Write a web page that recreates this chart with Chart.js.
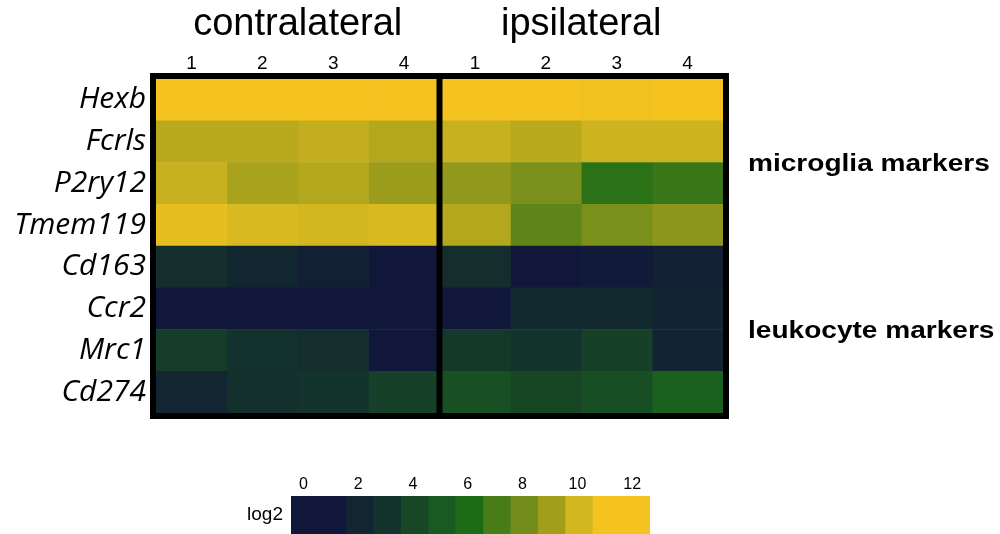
<!DOCTYPE html>
<html>
<head>
<meta charset="utf-8">
<script src="https://cdn.jsdelivr.net/npm/chart.js@4.4.0/dist/chart.umd.min.js"></script>
<style>
  html, body { margin: 0; padding: 0; background: #fff; }
  #wrap { position: relative; width: 1000px; height: 534px; overflow: hidden; }
  #heat { position: absolute; left: 0; top: 0; }
  #scale { position: absolute; left: 0; top: 460px; }
</style>
</head>
<body>
<div id="wrap">
  <canvas id="heat" width="1000" height="460"></canvas>
  <canvas id="scale" width="1000" height="74"></canvas>
</div>
<script>
const genes = ["Hexb", "Fcrls", "P2ry12", "Tmem119", "Cd163", "Ccr2", "Mrc1", "Cd274"];
const groups = ["contralateral", "ipsilateral"];
const colLabels = ["1", "2", "3", "4", "1", "2", "3", "4"];
const markerGroups = ["microglia markers", "leukocyte markers"];
const markerRows = [[0, 3], [4, 7]];

// log2 values per sample column, rows in the order of genes
const contra1 = [12.0, 9.5, 9.8, 10.9, 2.7, 0.3, 3.5, 2.0];
const contra2 = [12.0, 9.5, 9.2, 10.3, 2.1, 0.3, 2.9, 2.8];
const contra3 = [12.0, 9.7, 9.4, 10.1, 1.4, 0.3, 2.7, 3.1];
const contra4 = [12.0, 9.4, 8.9, 10.3, 0.4, 0.3, 0.3, 3.7];
const ipsi1 = [12.0, 9.8, 8.7, 9.4, 2.7, 0.3, 3.3, 4.5];
const ipsi2 = [12.0, 9.5, 8.2, 7.6, 0.3, 2.4, 3.1, 4.0];
const ipsi3 = [11.4, 9.9, 6.4, 8.2, 0.9, 2.4, 3.7, 4.4];
const ipsi4 = [12.0, 9.9, 6.7, 8.6, 1.4, 1.9, 1.8, 5.4];
const columns = [contra1, contra2, contra3, contra4, ipsi1, ipsi2, ipsi3, ipsi4];

// colour key
const legendEdges = [-0.45, 1.55, 2.55, 3.55, 4.55, 5.55, 6.55, 7.55, 8.55, 9.55, 10.55, 12.65];
const legendColors = ["#11173a", "#122530", "#13332c", "#174724", "#195a22", "#1c6b16",
  "#477c17", "#738d1a", "#a29e1c", "#d3b71f", "#f5c31f"];
const legendTicks = [0, 2, 4, 6, 8, 10, 12];

const stops = legendEdges.slice(0, -1).map((e, i) => (e + legendEdges[i + 1]) / 2);

const hexToRgb = function (h) {
  const n = parseInt(h.slice(1), 16);
  return [n >> 16, (n >> 8) & 255, n & 255];
};

const valueToColor = function (v) {
  if (v <= stops[0]) return legendColors[0];
  if (v >= stops[stops.length - 1]) return legendColors[legendColors.length - 1];
  let i = 0;
  while (v > stops[i + 1]) i++;
  const t = (v - stops[i]) / (stops[i + 1] - stops[i]);
  const a = hexToRgb(legendColors[i]);
  const b = hexToRgb(legendColors[i + 1]);
  return "rgb(" + a.map((c, k) => Math.round(c + (b[k] - c) * t)).join(",") + ")";
};

const sans = '"Liberation Sans", Arial, sans-serif';

// black frame, divider and the marker labels on the right
const frame = {
  id: "frame",
  afterDatasetsDraw(chart) {
    const { ctx, chartArea: a, scales } = chart;
    ctx.save();
    ctx.strokeStyle = "#000";
    ctx.lineWidth = 6;
    ctx.strokeRect(a.left - 3, a.top - 3, a.right - a.left + 6, a.bottom - a.top + 6);
    const xd = scales.x.getPixelForValue(4);
    ctx.beginPath();
    ctx.moveTo(xd, a.top);
    ctx.lineTo(xd, a.bottom);
    ctx.stroke();

    ctx.fillStyle = "#000";
    ctx.font = "bold 23px " + sans;
    ctx.textBaseline = "middle";
    markerGroups.forEach((label, i) => {
      const y = (scales.y.getPixelForValue(markerRows[i][0]) + scales.y.getPixelForValue(markerRows[i][1])) / 2;
      ctx.save();
      ctx.translate(748, y + 2);
      ctx.scale(1.22, 1);
      ctx.fillText(label, 0, 0);
      ctx.restore();
    });
    ctx.restore();
  },
};

new Chart(document.getElementById("heat"), {
  type: "bar",
  data: {
    labels: genes,
    datasets: columns.map((col, i) => ({
      label: groups[i < 4 ? 0 : 1] + " " + colLabels[i],
      data: genes.map(() => 1),
      backgroundColor: col.map(valueToColor),
      borderWidth: 0,
      barPercentage: 1,
      categoryPercentage: 1,
    })),
  },
  options: {
    indexAxis: "y",
    responsive: false,
    animation: false,
    layout: { autoPadding: false, padding: { right: 277, bottom: 47 } },
    plugins: { legend: { display: false }, tooltip: { enabled: false } },
    scales: {
      x: {
        type: "linear",
        position: "top",
        stacked: true,
        min: 0,
        max: 8,
        weight: 0,
        grid: { display: false, drawTicks: false },
        border: { display: false },
        afterBuildTicks: (s) => {
          s.ticks = colLabels.map((l, i) => ({ value: i + 0.5 }));
        },
        afterFit: (s) => { s.height = 31; },
        ticks: {
          autoSkip: false,
          maxRotation: 0,
          padding: 4,
          color: "#000",
          font: { family: sans, size: 19 },
          callback: (v, i) => colLabels[i],
        },
      },
      x2: {
        type: "linear",
        position: "top",
        min: 0,
        max: 8,
        weight: 1,
        grid: { display: false, drawTicks: false },
        border: { display: false },
        afterBuildTicks: (s) => {
          s.ticks = groups.map((g, i) => ({ value: 2 + i * 4 }));
        },
        afterFit: (s) => { s.height = 48; },
        ticks: {
          autoSkip: false,
          maxRotation: 0,
          padding: 1,
          color: "#000",
          font: { family: sans, size: 38 },
          callback: (v, i) => groups[i],
        },
      },
      y: {
        type: "category",
        stacked: true,
        grid: { display: false, drawTicks: false },
        border: { display: false },
        afterFit: (s) => { s.width = 156; },
        ticks: {
          padding: 10,
          color: "#000",
          font: { family: '"Open Sans", sans-serif', style: "italic", size: 30 },
        },
      },
    },
  },
  plugins: [frame],
});

new Chart(document.getElementById("scale"), {
  type: "bar",
  data: {
    labels: ["log2"],
    datasets: legendColors.map((c, i) => ({
      data: [[legendEdges[i], legendEdges[i + 1]]],
      backgroundColor: c,
      borderWidth: 0,
      barPercentage: 1,
      categoryPercentage: 1,
    })),
  },
  options: {
    indexAxis: "y",
    responsive: false,
    animation: false,
    layout: { autoPadding: false, padding: { right: 350 } },
    plugins: { legend: { display: false }, tooltip: { enabled: false } },
    scales: {
      x: {
        type: "linear",
        position: "top",
        min: legendEdges[0],
        max: legendEdges[legendEdges.length - 1],
        grid: { display: false, drawTicks: false },
        border: { display: false },
        afterBuildTicks: (s) => {
          s.ticks = legendTicks.map((v) => ({ value: v }));
        },
        afterFit: (s) => { s.height = 36; },
        ticks: {
          autoSkip: false,
          maxRotation: 0,
          padding: 2,
          color: "#000",
          font: { family: sans, size: 16 },
        },
      },
      y: {
        type: "category",
        stacked: true,
        grid: { display: false, drawTicks: false },
        border: { display: false },
        // the label sits in the middle, so no room is needed above or below it
        afterFit: (s) => {
          s.width = 291;
          s.paddingTop = 0;
          s.paddingBottom = 0;
        },
        ticks: {
          padding: 8,
          color: "#000",
          font: { family: sans, size: 19 },
        },
      },
    },
  },
});
</script>
</body>
</html>
